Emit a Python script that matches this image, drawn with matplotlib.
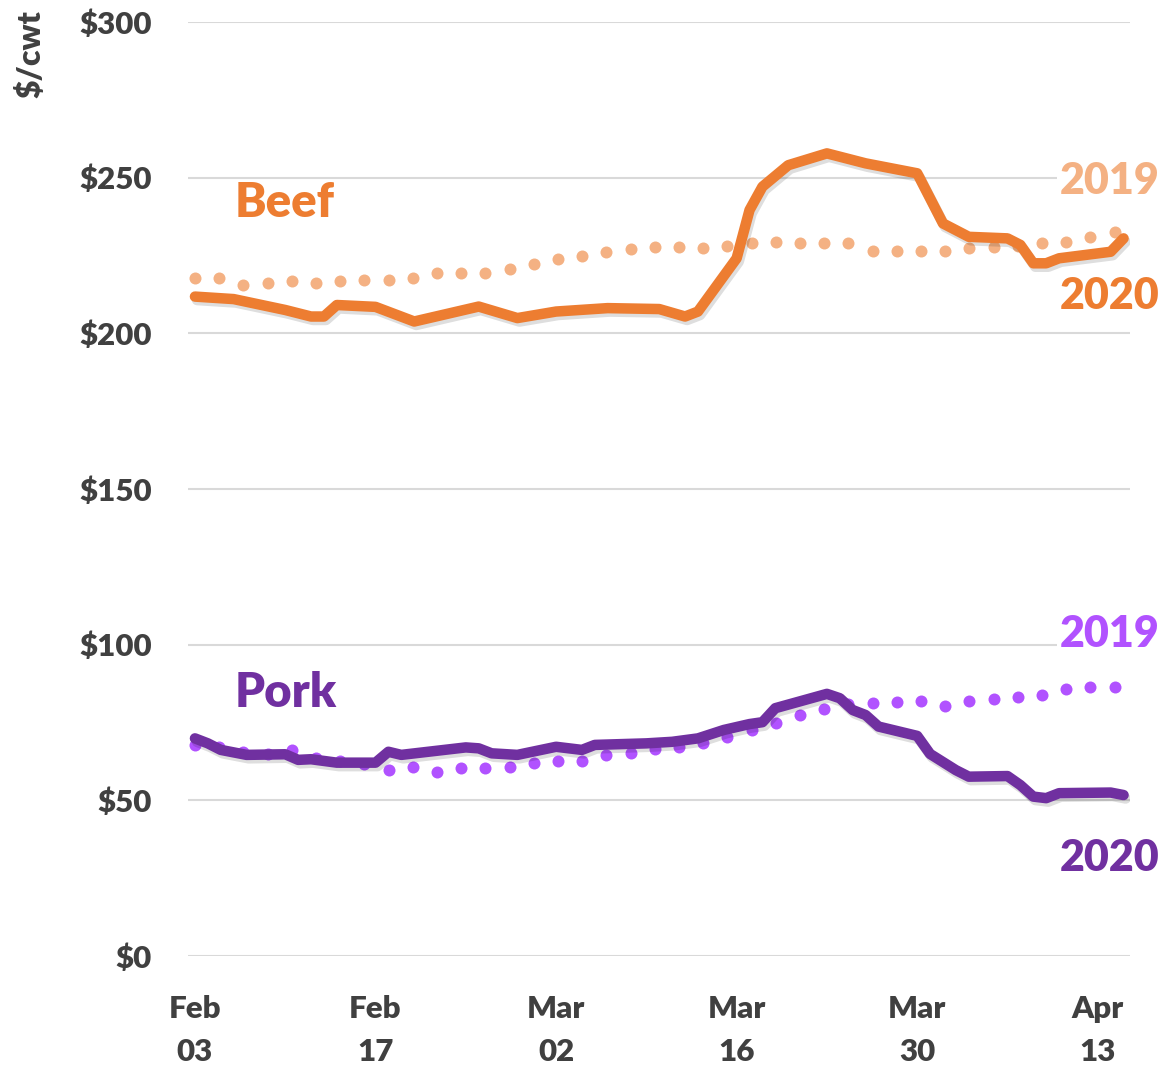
import numpy as np
import matplotlib
matplotlib.use("Agg")
import matplotlib.pyplot as plt
import matplotlib.patheffects as pe

plt.rcParams['font.family'] = ['Lato', 'DejaVu Sans']
plt.rcParams['font.weight'] = 'bold'

# ---- data (days since Feb 03, 2020) ----
tick_days = [0, 14, 28, 42, 56, 70]
tick_labels = ["Feb\n03", "Feb\n17", "Mar\n02", "Mar\n16", "Mar\n30", "Apr\n13"]
y_ticks = [0, 50, 100, 150, 200, 250, 300]
y_tick_labels = ["$0", "$50", "$100", "$150", "$200", "$250", "$300"]

beef_2020_days = [0, 3, 7, 9, 10, 11, 14, 17, 22, 25, 28, 32, 36, 38, 39, 42, 43, 44, 46, 49,
                  52, 56, 58, 60, 63, 64, 65, 66, 67, 71, 72]
beef_2020 = [211.8, 211.0, 207.5, 205.4, 205.4, 209.1, 208.5, 203.8, 208.6, 204.9, 207.0, 208.1,
             207.8, 205.4, 207.0, 224.1, 239.6, 247.1, 254.0, 257.8, 254.6, 251.4, 235.3, 231.0,
             230.5, 228.4, 222.5, 222.5, 224.1, 226.2, 230.5]

pork_2020_days = [0, 1, 2, 4, 7, 8, 9, 11, 14, 15, 16, 21, 22, 23, 25, 28, 30, 31, 35, 37, 39,
                  41, 43, 44, 45, 49, 50, 51, 52, 53, 56, 57, 59, 60, 63, 64, 65, 66, 67, 71, 72]
pork_2020 = [69.9, 68.3, 66.2, 64.6, 64.8, 63.0, 63.2, 62.1, 62.1, 65.6, 64.6, 67.0, 66.7, 65.1,
             64.6, 67.2, 66.2, 67.8, 68.3, 68.8, 69.9, 72.6, 74.5, 75.1, 79.6, 84.2, 82.8, 79.0,
             77.4, 73.7, 70.7, 64.9, 59.7, 57.6, 57.8, 54.9, 51.2, 50.7, 52.3, 52.5, 51.7]

beef_2019 = [217.7, 217.7, 215.5, 216.3, 216.9, 216.3, 216.8, 217.1, 217.1, 217.9, 219.3, 219.5,
             219.5, 220.6, 222.3, 223.8, 224.9, 226.2, 227.0, 227.8, 227.8, 227.3, 228.1, 229.1,
             229.2, 229.1, 228.9, 229.1, 226.6, 226.6, 226.3, 226.3, 227.3, 227.8, 228.2, 228.9,
             229.4, 230.9, 232.7]
pork_2019 = [67.8, 67.0, 65.5, 65.0, 66.2, 63.5, 62.5, 61.7, 59.7, 60.8, 59.2, 60.5, 60.3, 60.6,
             61.9, 62.7, 62.7, 64.6, 65.3, 66.4, 67.2, 68.5, 70.4, 72.6, 74.9, 77.4, 79.2, 81.0,
             81.2, 81.7, 82.0, 80.3, 82.0, 82.5, 83.1, 83.8, 85.7, 86.3, 86.3]
days_2019 = np.linspace(0, 71.3, len(beef_2019))

# ---- colors ----
c_beef20 = "#ED7D31"
c_beef19 = "#F4B183"
c_pork20 = "#7030A0"
c_pork19 = "#B152FF"
c_text = "#404040"

W, H = 1165, 1065
fig = plt.figure(figsize=(W / 100, H / 100), dpi=100)
ax = fig.add_axes([188 / W, 1 - 956 / H, (1130 - 188) / W, (956 - 22) / H])

ax.set_xlim(-0.54, 72.5)
ax.set_ylim(0, 300)

for s in ax.spines.values():
    s.set_visible(False)
ax.set_yticks(y_ticks)
ax.set_yticklabels(y_tick_labels)
ax.set_xticks(tick_days)
ax.set_xticklabels(tick_labels, linespacing=1.65)
ax.tick_params(axis='both', length=0, labelsize=22.5, labelcolor=c_text)
ax.tick_params(axis='y', pad=26)
ax.tick_params(axis='x', pad=28)
for lab in ax.get_xticklabels() + ax.get_yticklabels():
    lab.set_fontweight('heavy')
ax.grid(axis='y', color="#D9D9D9", lw=1.5, zorder=0)
ax.set_axisbelow(True)

shadow = [pe.SimpleLineShadow(offset=(1.5, -2.5), shadow_color='k', alpha=0.13), pe.Normal()]

ms = 12 * 0.72
ax.plot(days_2019, beef_2019, linestyle='none', marker='o', ms=ms, color=c_beef19, mew=0, zorder=2)
ax.plot(days_2019, pork_2019, linestyle='none', marker='o', ms=ms, color=c_pork19, mew=0, zorder=2)

lw = 10.5 * 0.72
ax.plot(beef_2020_days, beef_2020, color=c_beef20, lw=lw, solid_capstyle='round',
        solid_joinstyle='round', path_effects=shadow, zorder=3)
ax.plot(pork_2020_days, pork_2020, color=c_pork20, lw=lw, solid_capstyle='round',
        solid_joinstyle='round', path_effects=shadow, zorder=3)

ax.text(3.1, 242, "Beef", color=c_beef20, fontsize=34, fontweight='heavy', ha='left', va='center')
ax.text(3.1, 84.5, "Pork", color=c_pork20, fontsize=34, fontweight='heavy', ha='left', va='center')

bb = dict(facecolor='white', edgecolor='none', pad=2)
for yv, txt, col in [(249, "2019", c_beef19), (212, "2020", c_beef20),
                     (103.4, "2019", c_pork19), (31.5, "2020", c_pork20)]:
    ax.text(74.8, yv, txt, color=col, fontsize=31, fontweight='heavy', ha='right', va='center',
            bbox=bb, zorder=4, clip_on=False)

fig.text(30 / W, 1 - 54 / H, "$/cwt", rotation=90, color=c_text, fontsize=23, fontweight='heavy',
         ha='center', va='center')

fig.savefig("out.png", dpi=100)
